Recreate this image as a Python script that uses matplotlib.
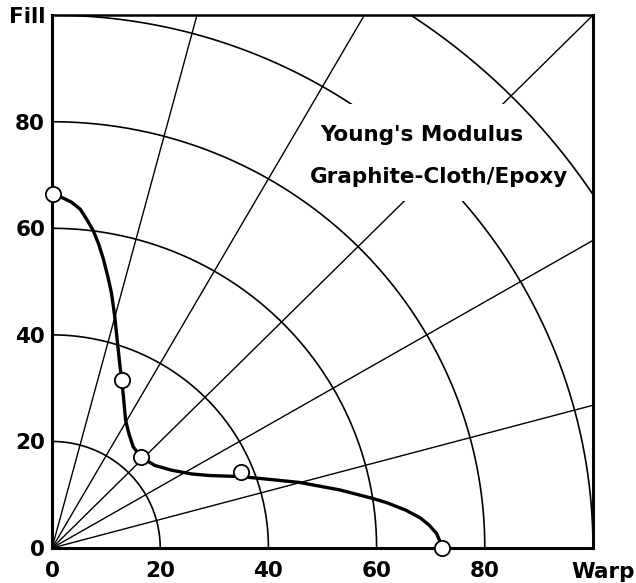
import numpy as np
import matplotlib.pyplot as plt
from matplotlib.patches import Rectangle

# measured points (Warp, Fill)
warp_pts = [0.1, 12.9, 16.5, 35.0, 72.0]
fill_pts = [66.5, 31.5, 17.0, 14.3, 0.0]

# curve
curve_warp = [0.1, 1.8, 3.6, 5.2, 6.4, 7.6, 8.6, 9.5, 10.3, 11.0, 11.6, 12.0, 12.5,
              12.9, 13.2, 13.6, 14.2, 15.0, 16.5, 19.0, 22.1, 25.8, 29.2, 35.0, 40.0,
              45.8, 53.2, 59.3, 61.9, 65.4, 68.0, 69.7, 71.1, 71.6, 72.0]
curve_fill = [66.5, 65.8, 64.9, 63.6, 61.7, 59.6, 57.1, 54.2, 51.0, 47.8, 43.4, 39.5, 34.7,
              31.5, 28.4, 24.0, 21.5, 19.0, 17.0, 15.5, 14.6, 13.9, 13.6, 13.4, 12.9,
              12.3, 10.9, 9.3, 8.5, 7.1, 5.7, 4.3, 2.7, 1.5, 0.0]

radii = [20, 40, 60, 80, 100, 120]
spoke_angles = [15, 30, 45, 60, 75]

x_ticks = [0, 20, 40, 60, 80]
y_ticks = [0, 20, 40, 60, 80, 100]
y_ticklabels = ['0', '20', '40', '60', '80', 'Fill']

plt.rcParams['font.family'] = 'DejaVu Sans'
plt.rcParams['font.weight'] = 'bold'

fig = plt.figure(figsize=(6.36, 5.83), dpi=100)
ax = fig.add_axes([0.0818, 0.060, 0.8506, 0.914])
ax.set_xlim(0, 100)
ax.set_ylim(0, 100)

th = np.linspace(0, np.pi / 2, 400)
for r in radii:
    z = 3 if r == 120 else 1
    ax.plot(r * np.cos(th), r * np.sin(th), color='black', lw=1.2, zorder=z)

for a in spoke_angles:
    t = np.radians(a)
    ax.plot([0, 200 * np.cos(t)], [0, 200 * np.sin(t)], color='black', lw=1.0, zorder=1)

# white area behind the label text
ax.add_patch(Rectangle((49.5, 65.2), 47.5, 18.1, facecolor='white', edgecolor='none', zorder=2))

ax.text(49.5, 76.4, "Young's Modulus", fontsize=15.5, fontweight='bold', ha='left', va='baseline', zorder=4)
ax.text(47.7, 68.5, "Graphite-Cloth/Epoxy", fontsize=15.5, fontweight='bold', ha='left', va='baseline', zorder=4)

ax.plot(curve_warp, curve_fill, color='black', lw=2.4, zorder=5, clip_on=False,
        solid_capstyle='round', solid_joinstyle='round')
ax.plot(warp_pts, fill_pts, 'o', ms=11, mfc='white', mec='black', mew=1.3, zorder=6, clip_on=False)

ax.set_xticks(x_ticks)
ax.set_yticks(y_ticks)
ax.set_yticklabels(y_ticklabels)
ax.tick_params(axis='both', length=0, labelsize=15.5)
ax.tick_params(axis='x', pad=9)
ax.tick_params(axis='y', pad=5)
for lab in ax.get_xticklabels() + ax.get_yticklabels():
    lab.set_fontweight('bold')

ax.text(101.8, -2.6, 'Warp', fontsize=15.5, fontweight='bold', ha='center', va='top', clip_on=False)

ax.spines['left'].set_linewidth(2.2)
ax.spines['bottom'].set_linewidth(2.2)
ax.spines['top'].set_linewidth(1.8)
ax.spines['right'].set_linewidth(2.2)
for s in ax.spines.values():
    s.set_zorder(4.5)

plt.savefig('out.png', dpi=100)
